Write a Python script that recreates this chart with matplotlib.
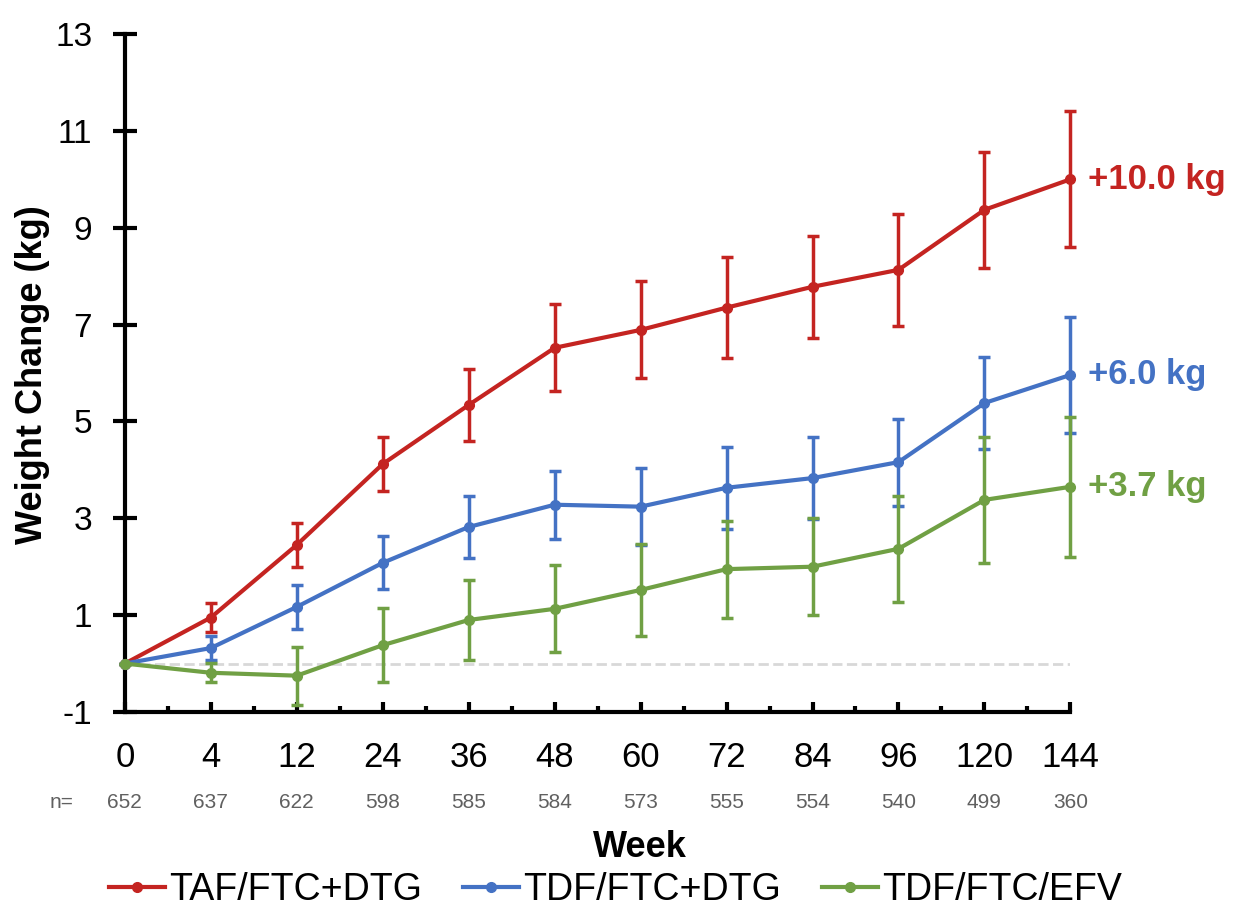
import matplotlib.pyplot as plt
from matplotlib.lines import Line2D
import numpy as np

plt.rcParams['font.family'] = ['Liberation Sans', 'DejaVu Sans']
plt.rcParams['axes.unicode_minus'] = False

## Donnees
semaines = ["0", "4", "12", "24", "36", "48", "60", "72", "84", "96", "120", "144"]
effectifs = [652, 637, 622, 598, 585, 584, 573, 555, 554, 540, 499, 360]

taf_dtg = [0, 0.95, 2.45, 4.12, 5.34, 6.52, 6.89, 7.35, 7.78, 8.13, 9.37, 10.0]
taf_dtg_err = [0, 0.3, 0.45, 0.55, 0.75, 0.9, 1.0, 1.05, 1.05, 1.15, 1.2, 1.4]

tdf_dtg = [0, 0.32, 1.17, 2.08, 2.82, 3.28, 3.24, 3.63, 3.83, 4.16, 5.38, 5.96]
tdf_dtg_err = [0, 0.25, 0.45, 0.55, 0.65, 0.7, 0.8, 0.85, 0.85, 0.9, 0.95, 1.2]

tdf_efv = [0, -0.19, -0.25, 0.38, 0.90, 1.13, 1.52, 1.95, 2.0, 2.37, 3.38, 3.65]
tdf_efv_err = [0, 0.2, 0.6, 0.77, 0.83, 0.9, 0.95, 1.0, 1.0, 1.1, 1.3, 1.45]

noms = ["TAF/FTC+DTG", "TDF/FTC+DTG", "TDF/FTC/EFV"]
etiquettes_fin = ["+10.0 kg", "+6.0 kg", "+3.7 kg"]
couleurs = ["#C42421", "#4472C4", "#70A044"]

## Affichage
fig = plt.figure(figsize=(12.36, 9.07), dpi=100)
ax = fig.add_axes([0.101, 0.215, 0.765, 0.7475])

x = np.arange(len(semaines))
ax.plot([0, len(semaines) - 1], [0, 0], "--", color="#D8D8D8", linewidth=2, zorder=1)

series = [(taf_dtg, taf_dtg_err), (tdf_dtg, tdf_dtg_err), (tdf_efv, tdf_efv_err)]
for k in [2, 1, 0]:
    val, err = series[k]
    cont = ax.errorbar(x, val, yerr=err, color=couleurs[k], linewidth=3, marker="o",
                       markersize=7, elinewidth=2.5, capsize=4, capthick=2.5,
                       zorder=3 + k)
    for art in cont.get_children():
        art.set_clip_on(False)
    ax.text(x[-1] + 0.2, val[-1], etiquettes_fin[k], color=couleurs[k],
            fontsize=25, fontweight="bold", va="center", ha="left")

ax.set_xlim(0, len(semaines) - 1)
ax.set_ylim(-1, 13)
ax.set_yticks(np.arange(-1, 14, 2))
ax.set_xticks(x)
ax.set_xticklabels(semaines)
ax.set_xticks(x[:-1] + 0.5, minor=True)

for s in ["top", "right"]:
    ax.spines[s].set_visible(False)
for s in ["left", "bottom"]:
    ax.spines[s].set_linewidth(3)
ax.spines["bottom"].set_zorder(10)

ax.tick_params(axis="y", direction="inout", length=17, width=3, labelsize=24, pad=15)
ax.tick_params(axis="x", which="major", direction="in", length=7, width=3, labelsize=25, pad=21)
ax.tick_params(axis="x", which="minor", direction="in", length=4, width=3)

fig.text(0.026, 0.587, "Weight Change (kg)", fontsize=26, fontweight="bold",
         rotation=90, ha="center", va="center")

# effectifs sous l'axe
ax.text(-0.875, -0.133, "n=", transform=ax.get_xaxis_transform(), fontsize=15,
        color="#606060", ha="left", va="center")
for i, n in enumerate(effectifs):
    ax.text(x[i], -0.133, str(n), transform=ax.get_xaxis_transform(), fontsize=15,
            color="#606060", ha="center", va="center")

fig.text(0.518, 0.066, "Week", fontsize=26, fontweight="bold", ha="center", va="center")

handles = [Line2D([], [], color=c, linewidth=3, marker="o", markersize=7) for c in couleurs]
fig.legend(handles, noms, loc="center", bbox_to_anchor=(0.498, 0.019), ncol=3,
           frameon=False, fontsize=27, handlelength=1.5, handletextpad=0.1,
           columnspacing=1.1)

fig.savefig("out.png", dpi=100)
